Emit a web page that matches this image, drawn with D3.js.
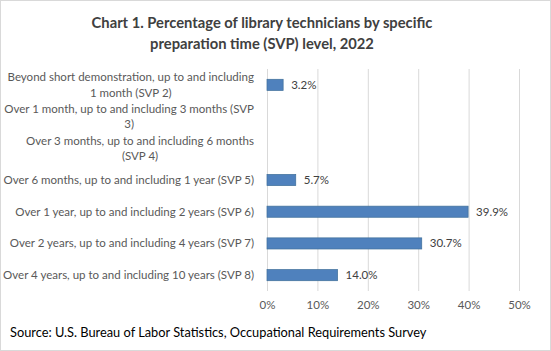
<!DOCTYPE html>
<html>
<head>
<meta charset="utf-8">
<script src="https://cdn.jsdelivr.net/npm/d3@7"></script>
<style>
  body { margin: 0; background: #fff; }
  svg { display: block; font-family: Lato, "Open Sans", sans-serif; }
</style>
</head>
<body>
<div class="container"></div>
<script>
// chart values
const categories = [
    ['Beyond short demonstration, up to and including', '1 month (SVP 2)'],
    ['Over 1 month, up to and including 3 months (SVP', '3)'],
    ['Over 3 months, up to and including 6 months', '(SVP 4)'],
    ['Over 6 months, up to and including 1 year (SVP 5)'],
    ['Over 1 year, up to and including 2 years (SVP 6)'],
    ['Over 2 years, up to and including 4 years (SVP 7)'],
    ['Over 4 years, up to and including 10 years (SVP 8)'],
];
const values = [3.2, null, null, 5.7, 39.9, 30.7, 14.0];
const xTicks = [0, 10, 20, 30, 40, 50];
const titleLines = ['Chart 1. Percentage of library technicians by specific', 'preparation time (SVP) level, 2022'];
const source = 'Source: U.S. Bureau of Labor Statistics, Occupational Requirements Survey';

const width = 551;
const height = 351;
const plot = { left: 267, right: 519, top: 69, bottom: 291 };

const svg = d3.select('.container')
    .append('svg')
    .attr('width', width)
    .attr('height', height);

// shrink/grow a group of texts so the widest one spans `target` px
function fitFont(sel, base, target) {
    let w = 0;
    sel.each(function () { w = Math.max(w, this.getComputedTextLength()); });
    const size = base * target / w;
    sel.attr('font-size', size);
    return size;
}

svg.append('rect')
    .attr('x', 0.5).attr('y', 0.5)
    .attr('width', width - 1).attr('height', height - 1)
    .attr('fill', '#fff')
    .attr('stroke', '#d9d9d9');

// title
const title = svg.selectAll('.title')
    .data(titleLines)
    .enter()
    .append('text')
    .attr('class', 'title')
    .attr('x', 262)
    .attr('y', (d, i) => 28 + i * 21)
    .attr('text-anchor', 'middle')
    .attr('font-size', 16)
    .attr('font-weight', 'bold')
    .attr('fill', '#404040')
    .text(d => d);
fitFont(title, 16, 341);

const xscale = d3.scaleLinear().domain([0, 50]).range([plot.left, plot.right]);
const yscale = d3.scaleBand()
    .domain(categories.map((d, i) => i))
    .range([plot.top, plot.bottom])
    .paddingInner(0.65)
    .paddingOuter(0.325);

// gridlines
svg.append('g')
    .selectAll('line')
    .data(xTicks)
    .enter()
    .append('line')
    .attr('x1', d => xscale(d) + 0.5)
    .attr('x2', d => xscale(d) + 0.5)
    .attr('y1', plot.top)
    .attr('y2', plot.bottom)
    .attr('stroke', '#d9d9d9')
    .attr('stroke-width', 1);

// x axis labels
const xAxis = d3.axisBottom(xscale)
    .tickValues(xTicks)
    .tickFormat(d => d + '%')
    .tickSize(0)
    .tickPadding(0);
const gx = svg.append('g')
    .attr('transform', `translate(0, ${plot.bottom + 10})`)
    .call(xAxis);
gx.select('.domain').remove();
gx.selectAll('text')
    .attr('font-family', 'Lato, "Open Sans", sans-serif')
    .attr('font-size', 11.5)
    .attr('fill', '#595959');

// bars
const rows = categories.map((c, i) => ({ lines: c, value: values[i], i }));
svg.selectAll('.bar')
    .data(rows.filter(d => d.value !== null))
    .enter()
    .append('rect')
    .attr('class', 'bar')
    .attr('x', xscale(0))
    .attr('y', d => yscale(d.i))
    .attr('width', d => xscale(d.value) - xscale(0))
    .attr('height', yscale.bandwidth())
    .attr('fill', '#4f81bd')
    .attr('stroke', '#41719c')
    .attr('stroke-width', 0.75);

svg.selectAll('.value')
    .data(rows.filter(d => d.value !== null))
    .enter()
    .append('text')
    .attr('class', 'value')
    .attr('x', d => xscale(d.value) + 8)
    .attr('y', d => yscale(d.i) + yscale.bandwidth() / 2)
    .attr('dy', '0.35em')
    .attr('font-size', 11.5)
    .attr('fill', '#404040')
    .text(d => d.value.toFixed(1) + '%');

// category labels, wrapped lines centred inside a right-aligned block
const labelRight = 254;
const lineH = 15.5;
const labelGroups = rows.map(row => {
    const g = svg.append('g');
    const n = row.lines.length;
    const cy = yscale(row.i) + yscale.bandwidth() / 2;
    row.lines.forEach((line, k) => g.append('text')
        .attr('y', cy + (k - (n - 1) / 2) * lineH)
        .attr('dy', '0.35em')
        .attr('font-size', 12)
        .attr('fill', '#595959')
        .text(line));
    return g;
});
fitFont(svg.selectAll('g text').filter(function () { return this.parentNode !== gx.node() && !this.parentNode.classList.contains('tick'); }), 12, 251);
labelGroups.forEach(g => {
    const texts = g.selectAll('text');
    let maxW = 0;
    texts.each(function () { maxW = Math.max(maxW, this.getComputedTextLength()); });
    texts.attr('x', labelRight - maxW / 2).attr('text-anchor', 'middle');
});

// source
const src = svg.append('text')
    .attr('x', 10)
    .attr('y', 337)
    .attr('font-size', 14)
    .attr('fill', '#000')
    .text(source);
fitFont(src, 14, 417);
</script>
</body>
</html>
